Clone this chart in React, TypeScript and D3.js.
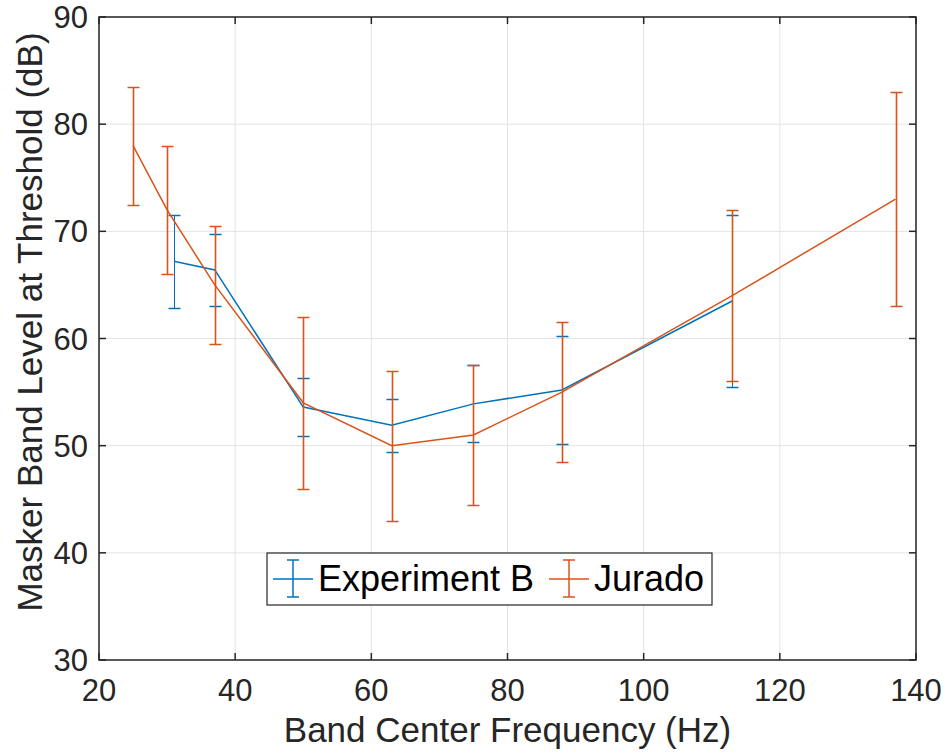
import React from "react";
import * as d3 from "d3";

const jX = [25, 30, 37, 50, 63, 75, 88, 113, 137];
const jY = [78, 72, 65, 54, 50, 51, 55, 64, 73];
const jErr = [5.5, 6, 5.5, 8, 7, 6.5, 6.5, 8, 10];

const bX = [31, 37, 50, 63, 75, 88, 113];
const bY = [67.2, 66.4, 53.6, 51.9, 53.9, 55.2, 63.5];
const bErr = [4.35, 3.35, 2.7, 2.5, 3.6, 5, 8];

const xTicks = [20, 40, 60, 80, 100, 120, 140];
const yTicks = [30, 40, 50, 60, 70, 80, 90];

const seriesNames = ["Experiment B", "Jurado"];
const BLUE = "#0072BD";
const ORANGE = "#D95319";
const AXC = "#262626";
const FONT = "'Liberation Sans', Arial, Helvetica, sans-serif";

export default function App() {
  const W = 945, H = 752;
  const L = 99, R = 916, T = 17, B = 660;
  const x = d3.scaleLinear().domain([20, 140]).range([L, R]);
  const y = d3.scaleLinear().domain([30, 90]).range([B, T]);
  const line = d3.line<number>().x((d) => d[0]).y((d) => d[1]);
  const cap = 6;
  const tl = 7;

  const series = [
    { xs: bX, ys: bY, es: bErr, c: BLUE, ew: 1 },
    { xs: jX, ys: jY, es: jErr, c: ORANGE, ew: 1.6 },
  ];

  return (
    <svg width={W} height={H} style={{ position: "absolute", left: 0, top: 0, background: "#fff" }} fontFamily={FONT}>
      <rect x={0} y={0} width={W} height={H} fill="#fff" />
      {/* grid */}
      {xTicks.map((t) => (
        <line key={"gx" + t} x1={x(t)} x2={x(t)} y1={T} y2={B} stroke="#e3e3e3" strokeWidth={1} />
      ))}
      {yTicks.map((t) => (
        <line key={"gy" + t} x1={L} x2={R} y1={y(t)} y2={y(t)} stroke="#e3e3e3" strokeWidth={1} />
      ))}
      {/* data */}
      {series.map((s, si) => (
        <g key={si} stroke={s.c} fill="none" strokeWidth={1.5}>
          <path d={line(s.xs.map((v, i) => [x(v), y(s.ys[i])]) as any) || ""} />
          {s.xs.map((v, i) => {
            const px = Math.round(x(v)) + 0.5;
            const y1 = Math.round(y(s.ys[i] + s.es[i])) + 0.5;
            const y2 = Math.round(y(s.ys[i] - s.es[i])) + 0.5;
            return (
              <g key={i}>
                <line x1={px} x2={px} y1={y1} y2={y2} strokeWidth={s.ew} />
                <line x1={px - cap} x2={px + cap} y1={y1} y2={y1} />
                <line x1={px - cap} x2={px + cap} y1={y2} y2={y2} />
              </g>
            );
          })}
        </g>
      ))}
      {/* box */}
      <rect x={L} y={T} width={R - L} height={B - T} fill="none" stroke={AXC} strokeWidth={1.5} />
      {/* ticks */}
      {xTicks.map((t) => (
        <g key={"tx" + t} stroke={AXC} strokeWidth={1.5}>
          <line x1={x(t)} x2={x(t)} y1={B} y2={B - tl} />
          <line x1={x(t)} x2={x(t)} y1={T} y2={T + tl} />
        </g>
      ))}
      {yTicks.map((t) => (
        <g key={"ty" + t} stroke={AXC} strokeWidth={1.5}>
          <line x1={L} x2={L + tl} y1={y(t)} y2={y(t)} />
          <line x1={R} x2={R - tl} y1={y(t)} y2={y(t)} />
        </g>
      ))}
      {xTicks.map((t) => (
        <text key={"lx" + t} x={x(t)} y={701} textAnchor="middle" fontSize={31} fill={AXC}>
          {t}
        </text>
      ))}
      {yTicks.map((t) => (
        <text key={"ly" + t} x={88} y={y(t) + 11} textAnchor="end" fontSize={31} fill={AXC}>
          {t}
        </text>
      ))}
      <text x={(L + R) / 2} y={742} textAnchor="middle" fontSize={35} fill={AXC}>
        Band Center Frequency (Hz)
      </text>
      <text
        transform={`translate(42, 322) rotate(-90)`}
        textAnchor="middle"
        fontSize={35}
        fill={AXC}
      >
        Masker Band Level at Threshold (dB)
      </text>
      {/* legend */}
      <g>
        <rect x={267} y={553} width={445} height={52} fill="#fff" stroke={AXC} strokeWidth={1.2} />
        {[
          { c: BLUE, x0: 273, name: seriesNames[0], tx: 318 },
          { c: ORANGE, x0: 549, name: seriesNames[1], tx: 594 },
        ].map((l, i) => (
          <g key={i}>
            <g stroke={l.c} strokeWidth={1.5}>
              <line x1={l.x0} x2={l.x0 + 40} y1={579} y2={579} />
              <line x1={l.x0 + 20} x2={l.x0 + 20} y1={560} y2={597} />
              <line x1={l.x0 + 14} x2={l.x0 + 26} y1={560} y2={560} />
              <line x1={l.x0 + 14} x2={l.x0 + 26} y1={597} y2={597} />
            </g>
            <text x={l.tx} y={591} fontSize={36} fill="#000">
              {l.name}
            </text>
          </g>
        ))}
      </g>
    </svg>
  );
}
